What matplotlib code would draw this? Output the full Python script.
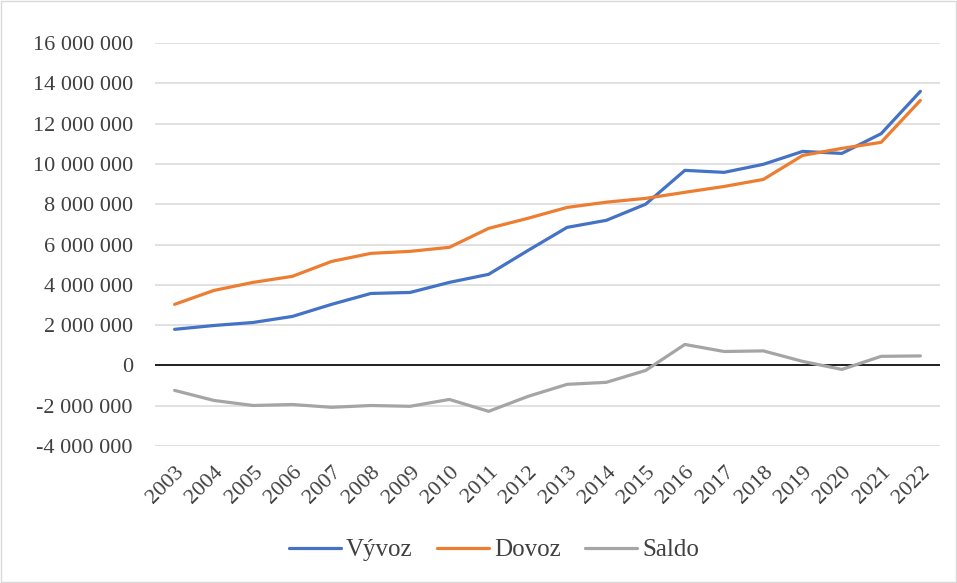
import matplotlib.pyplot as plt
from matplotlib.patches import Rectangle
from matplotlib.ticker import FuncFormatter, MultipleLocator

plt.rcParams['font.family'] = 'serif'
plt.rcParams['font.serif'] = ['Liberation Serif', 'Times New Roman', 'DejaVu Serif']

years = [str(y) for y in range(2003, 2023)]
vyvoz = [1.79, 1.98, 2.13, 2.43, 3.03, 3.57, 3.62, 4.12, 4.52, 5.70,
         6.85, 7.20, 8.00, 9.68, 9.58, 9.98, 10.62, 10.52, 11.50, 13.60]
dovoz = [3.03, 3.72, 4.12, 4.42, 5.16, 5.56, 5.66, 5.86, 6.80, 7.30,
         7.84, 8.10, 8.29, 8.59, 8.88, 9.23, 10.42, 10.77, 11.07, 13.15]
saldo = [-1.24, -1.74, -1.99, -1.94, -2.08, -1.99, -2.03, -1.69, -2.28, -1.54,
         -0.94, -0.84, -0.25, 1.04, 0.69, 0.72, 0.20, -0.20, 0.45, 0.47]
series = [("Vývoz", vyvoz, "#4472C4"),
          ("Dovoz", dovoz, "#ED7D31"),
          ("Saldo", saldo, "#A5A5A5")]

fig = plt.figure(figsize=(9.57, 5.83), dpi=100)
ax = fig.add_axes([155 / 957, 1 - 446 / 583, (940 - 155) / 957, (446 - 43) / 583])

x = list(range(len(years)))
for name, vals, col in series:
    ax.plot(x, [v * 1e6 for v in vals], color=col, lw=2.3, label=name,
            solid_capstyle='round', zorder=3)

ax.set_xlim(-0.5, len(years) - 0.5)
ax.set_ylim(-4e6, 16e6)
ax.yaxis.set_major_locator(MultipleLocator(2e6))
ax.yaxis.set_major_formatter(FuncFormatter(lambda v, p: f"{int(round(v)):,}".replace(",", " ")))
ax.grid(axis='y', color='#D9D9D9', lw=1.1, zorder=0)
ax.axhline(0, color='black', lw=1.2, zorder=2)
for s in ax.spines.values():
    s.set_visible(False)
ax.set_xticks(x)
ax.set_xticklabels(years, rotation=45, ha='right', va='top', rotation_mode='anchor')
ax.tick_params(axis='both', length=0, labelsize=16, colors='#404040')
ax.tick_params(axis='y', pad=16)
ax.tick_params(axis='x', pad=12)

leg = fig.legend(loc='center', bbox_to_anchor=(0.516, 1 - 550 / 583), ncol=3,
                 frameon=False, fontsize=18, handlelength=2.1, columnspacing=0.95,
                 handletextpad=0.2)
for t in leg.get_texts():
    t.set_color('#404040')

fig.patches.append(Rectangle((0.001, 0.001), 0.998, 0.998, transform=fig.transFigure,
                             fill=False, edgecolor='#D9D9D9', lw=1))

fig.savefig("out.png", dpi=100)
